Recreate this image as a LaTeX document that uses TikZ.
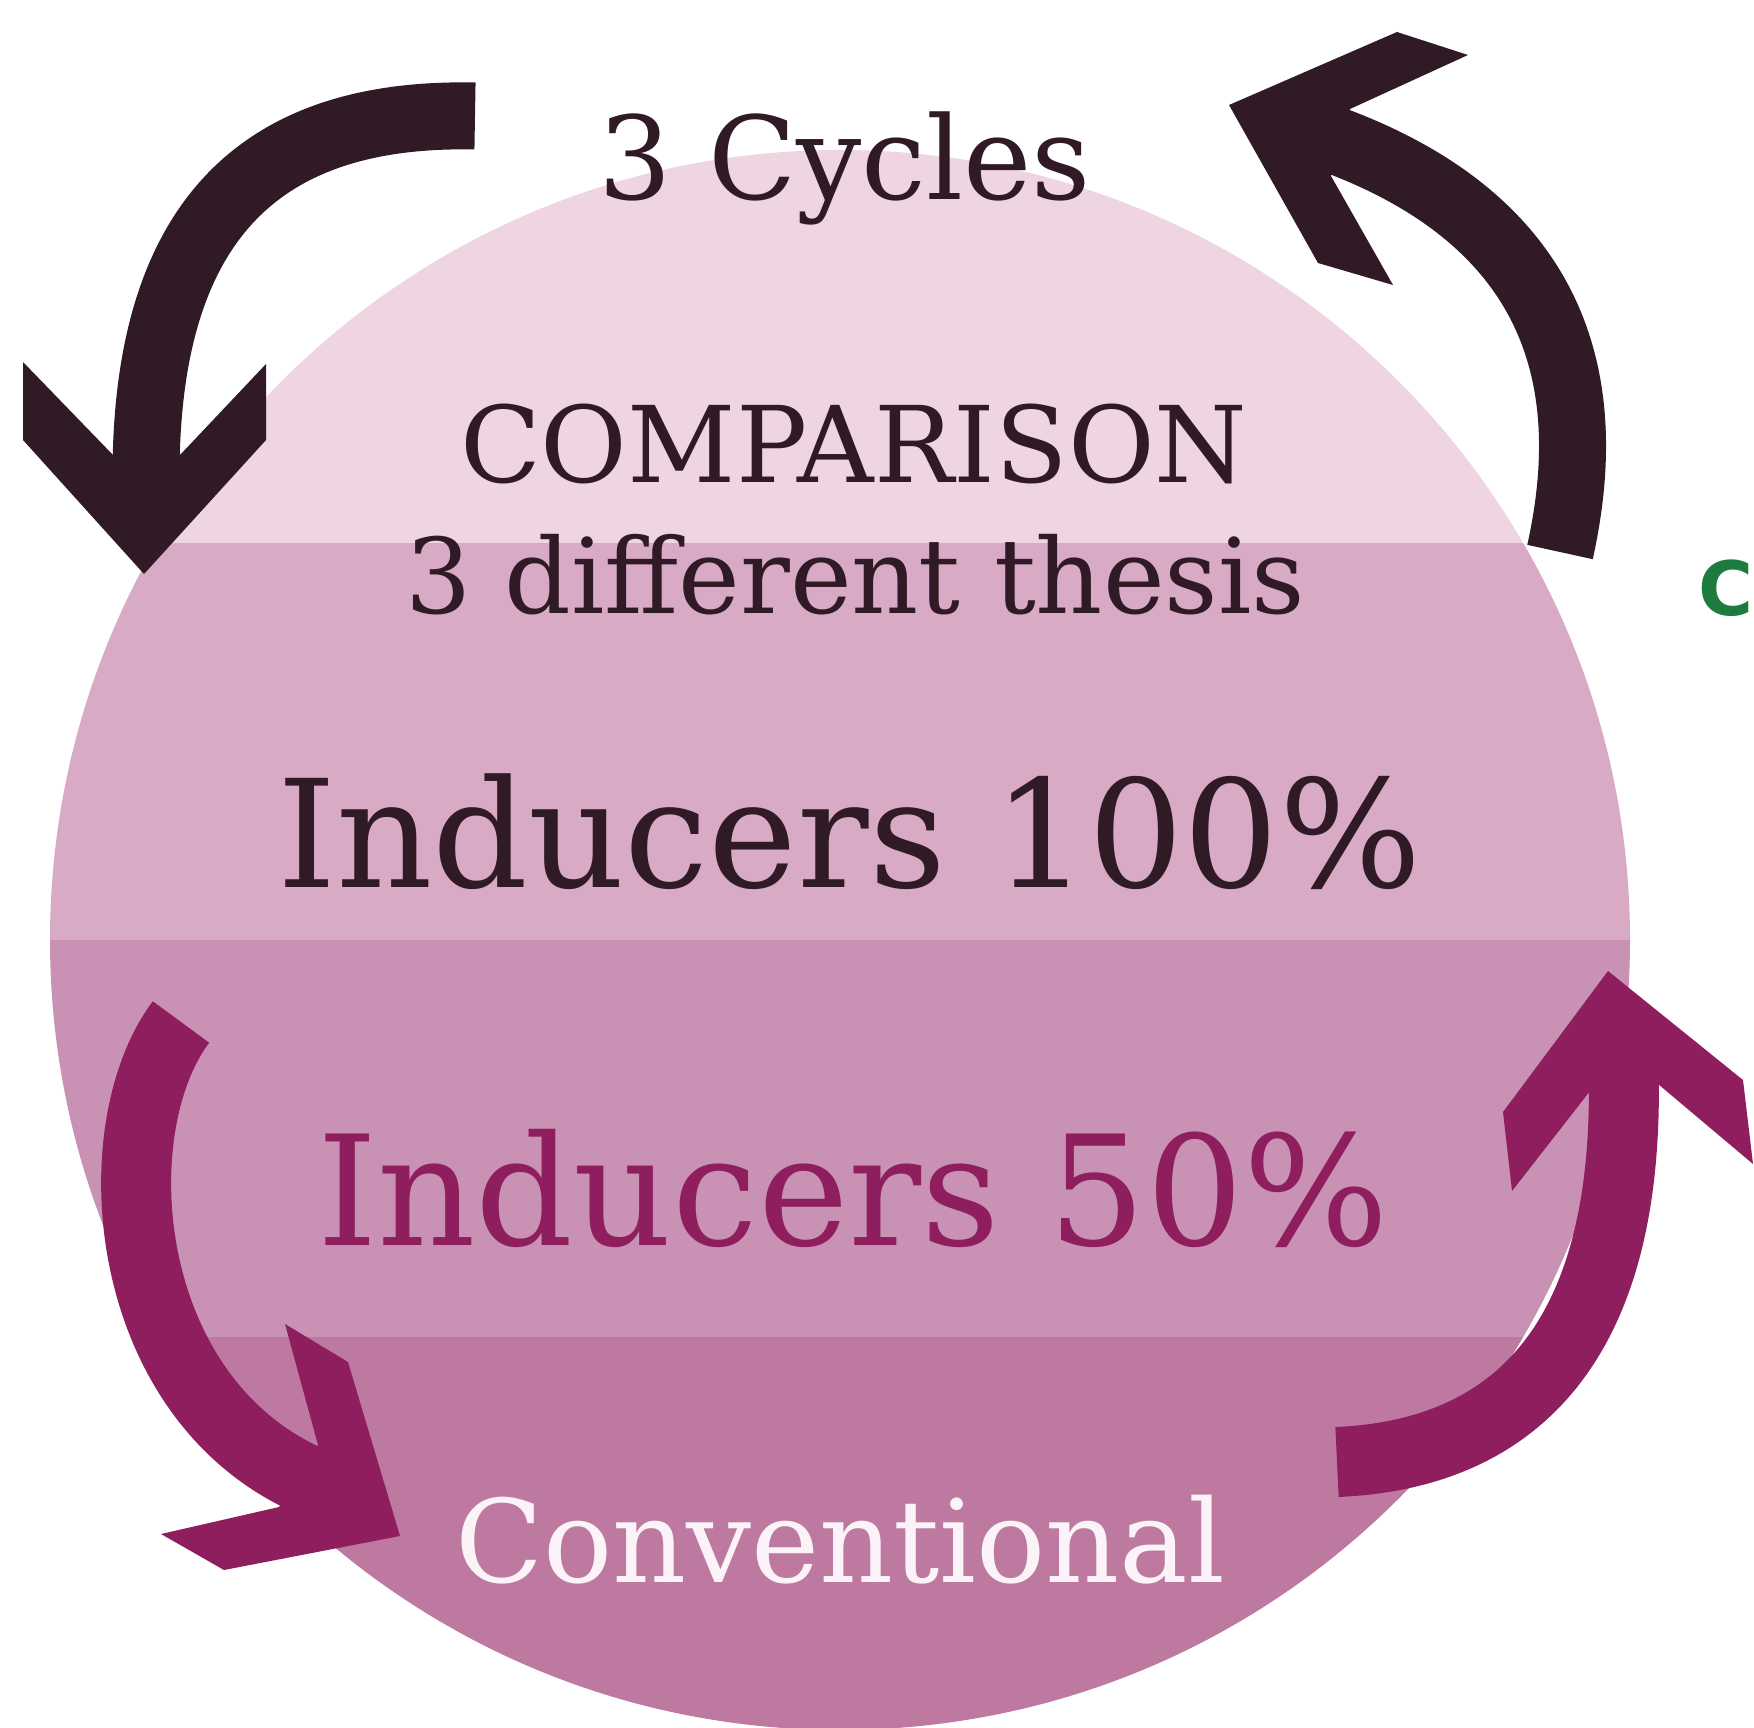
\documentclass[tikz,border=0pt]{standalone}
\usepackage{fontspec}
\usepackage{graphicx}
\setmainfont{DejaVu Serif}
\newfontfamily\labelsans{DejaVu Sans}
\definecolor{bandA}{HTML}{EFD4E2}
\definecolor{bandB}{HTML}{D9AAC5}
\definecolor{bandC}{HTML}{C992B4}
\definecolor{bandD}{HTML}{BD79A0}
\definecolor{arrowdark}{HTML}{2F1A25}
\definecolor{arrowmag}{HTML}{8E1E5E}
\definecolor{softwhite}{HTML}{FBF3F7}
\definecolor{greentxt}{HTML}{1E7B3E}
\newcommand\fitto[2]{\resizebox{#1pt}{!}{#2}}
\begin{document}
\begin{tikzpicture}[x=1pt,y=-1pt,
  darkstem/.style={draw=arrowdark,line width=67pt,shorten >=-16pt},
  magstem/.style={draw=arrowmag,line width=70pt,shorten >=-16pt},
  darkhead/.style={fill=arrowdark},
  maghead/.style={fill=arrowmag},
  lbl/.style={inner sep=0pt,outer sep=0pt,anchor=base west}]
\clip (0,0) rectangle (1754,1728);
\fill[white] (0,0) rectangle (1754,1728);
% disc with horizontal bands
\begin{scope}
\clip (840,940) circle [radius=790];
\fill[bandA] (0,0) rectangle (1754,543);
\fill[bandB] (0,543) rectangle (1754,940);
\fill[bandC] (0,940) rectangle (1754,1337);
\fill[bandD] (0,1337) rectangle (1754,1728);
\end{scope}
% arrow 1: dark, top left
\coordinate (a1tail) at (475,116);
\coordinate (a1head) at (146,460);
\draw[darkstem] (a1tail) .. controls (280,112) and (146,200) .. (a1head);
\fill[darkhead] (23,362) -- (113,455) -- (180,455) -- (266,364) -- (266,440) -- (144,574) -- (23,440) -- cycle;
% arrow 2: dark, top right
\coordinate (a2tail) at (1560,552);
\coordinate (a2head) at (1340,142);
\draw[darkstem] (a2tail) .. controls (1596,390) and (1565,222) .. (a2head);
\fill[darkhead] (1229,105) -- (1397,32) -- (1468,55) -- (1350,109) -- (1331,176) -- (1393,285) -- (1318,263) -- cycle;
% arrow 3: magenta, bottom left
\coordinate (a3tail) at (181,1022);
\coordinate (a3head) at (298,1476);
\draw[magstem] (a3tail) .. controls (100,1130) and (120,1400) .. (a3head);
\fill[maghead] (400,1536) -- (348,1362) -- (285,1324) -- (318,1445) -- (279,1507) -- (161,1534) -- (224,1570) -- cycle;
% arrow 4: magenta, bottom right
\coordinate (a4tail) at (1337,1462);
\coordinate (a4head) at (1624,1088);
\draw[magstem] (a4tail) .. controls (1500,1455) and (1630,1360) .. (a4head);
\fill[maghead] (1608,971) -- (1743,1080) -- (1753,1164) -- (1658,1084) -- (1590,1091) -- (1512,1191) -- (1503,1112) -- cycle;
% texts
\node[lbl,text=arrowdark] (cycles) at (598,200) {\fitto{493}{3 Cycles}};
\node[lbl,text=arrowdark] (comp) at (460,482) {\fitto{787}{COMPARISON}};
\node[lbl,text=arrowdark] (thesis) at (405,613) {\fitto{900}{3 different thesis}};
\node[lbl,text=arrowdark] (ind100) at (277,887) {\fitto{1144}{Inducers 100\%}};
\node[lbl,text=arrowmag] (ind50) at (317,1245) {\fitto{1071}{Inducers 50\%}};
\node[lbl,text=softwhite] (conv) at (455,1582) {\fitto{770}{Conventional}};
\node[lbl,text=greentxt] (gc) at (1698,615) {\labelsans\bfseries\fontsize{75}{77}\selectfont C};
\end{tikzpicture}
\end{document}
